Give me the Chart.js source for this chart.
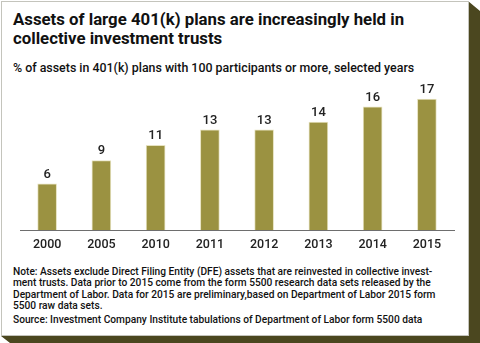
<!DOCTYPE html>
<html>
<head>
<meta charset="utf-8">
<script src="https://cdn.jsdelivr.net/npm/chart.js@4/dist/chart.umd.min.js"></script>
<style>
  html, body { margin: 0; padding: 0; background: #fff; }
  #frame { position: relative; width: 480px; height: 343px; overflow: hidden; }
  #shadow {
    position: absolute; left: 0; top: 0; width: 480px; height: 343px;
    background: #4b471f;
    clip-path: polygon(468px 1px, 480px 11px, 480px 343px, 10px 343px, 1px 336px, 468px 336px);
  }
  #card {
    position: absolute; left: 1px; top: 1px; width: 466px; height: 333px;
    background: #fff; border: 1px solid #c4c4bc;
  }
  .title {
    position: absolute; left: 13px; top: 10px; margin: 0;
    font: bold 16.8px Roboto, sans-serif; line-height: 19px; color: #111;
  }
  .subtitle {
    position: absolute; left: 13px; top: 60px; margin: 0;
    font: 500 12.4px Roboto, sans-serif; color: #111;
  }
  .note {
    position: absolute; left: 13px; top: 266px; margin: 0;
    font: 500 10.2px Roboto, sans-serif; line-height: 11.4px; color: #111;
    white-space: pre;
  }
  .note span { display: block; margin-top: 2.5px; }
  canvas { position: absolute; left: 0; top: 0; }
</style>
</head>
<body>
<div id="frame">
  <div id="shadow"></div>
  <div id="card"></div>
  <h1 class="title">Assets of large 401(k) plans are increasingly held in<br>collective investment trusts</h1>
  <p class="subtitle">% of assets in 401(k) plans with 100 participants or more, selected years</p>
  <p class="note">Note: Assets exclude Direct Filing Entity (DFE) assets that are reinvested in collective invest-
ment trusts. Data prior to 2015 come from the form 5500 research data sets released by the
Department of Labor. Data for 2015 are preliminary,based on Department of Labor 2015 form
5500 raw data sets.<span>Source: Investment Company Institute tabulations of Department of Labor form 5500 data</span></p>
  <canvas id="chart" width="480" height="343"></canvas>
</div>
<script>
const years = ['2000', '2005', '2010', '2011', '2012', '2013', '2014', '2015'];
const citShare = [6, 9, 11, 13, 13, 14, 16, 17];

// value labels on top of each bar
const barValues = {
  id: 'barValues',
  afterDatasetsDraw(chart) {
    const ctx = chart.ctx;
    const meta = chart.getDatasetMeta(0);
    ctx.save();
    ctx.font = '500 13px Roboto, sans-serif';
    ctx.fillStyle = '#222';
    ctx.textAlign = 'center';
    ctx.textBaseline = 'bottom';
    meta.data.forEach((bar, i) => {
      ctx.fillText(String(citShare[i]), bar.x, bar.y - 3);
    });
    ctx.restore();
  }
};

new Chart(document.getElementById('chart'), {
  type: 'bar',
  data: {
    labels: years,
    datasets: [{
      data: citShare,
      backgroundColor: '#9b9241',
      borderColor: '#e6e2c0',
      borderWidth: 1,
      barThickness: 19
    }]
  },
  options: {
    responsive: false,
    animation: false,
    layout: { padding: { left: 20, right: 26, top: 76, bottom: 84 } },
    plugins: { legend: { display: false }, tooltip: { enabled: false } },
    scales: {
      x: {
        grid: { display: false, drawTicks: false },
        border: { display: true, color: '#6e6e6e', width: 1 },
        ticks: { color: '#222', font: { family: 'Roboto', size: 12.5, weight: '500' }, padding: 7 }
      },
      y: {
        display: false,
        min: 0,
        max: 20
      }
    }
  },
  plugins: [barValues]
});
</script>
</body>
</html>
